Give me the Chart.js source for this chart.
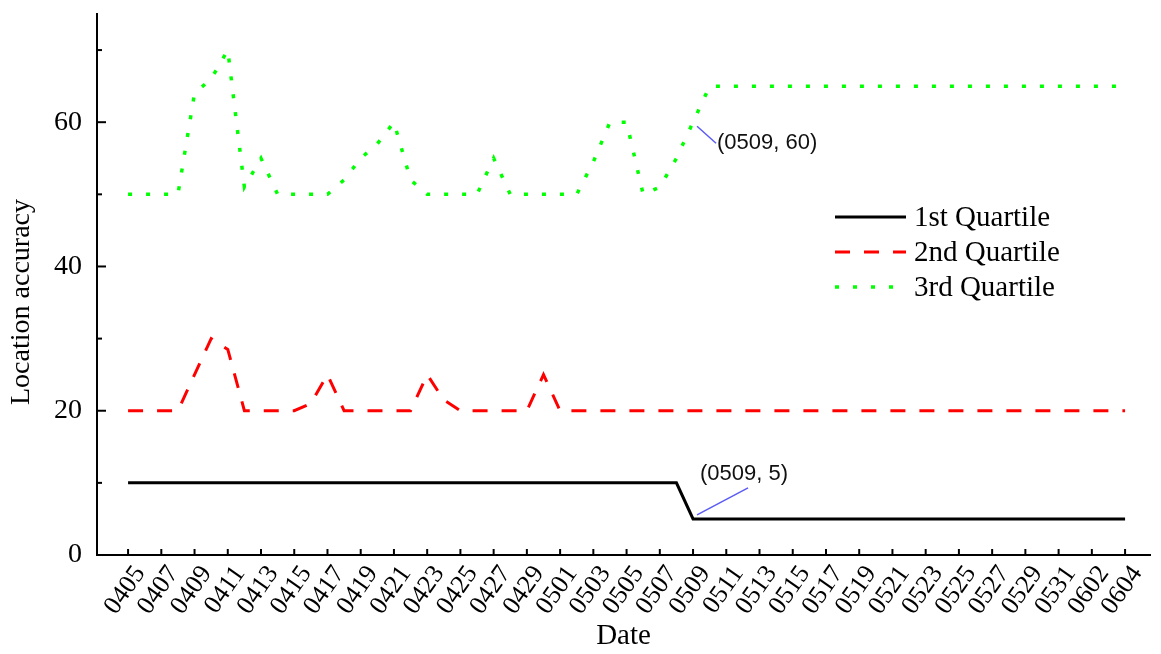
<!DOCTYPE html>
<html>
<head>
<meta charset="utf-8">
<script src="https://cdn.jsdelivr.net/npm/chart.js@4.4.1/dist/chart.umd.min.js"></script>
<style>
  html, body { margin: 0; padding: 0; background: #fff; }
</style>
</head>
<body>
<canvas id="accuracyChart" width="1161" height="654"></canvas>
<script>
// daily dates, every other one is labelled on the axis
const dates = ['0405','0406','0407','0408','0409','0410','0411','0412','0413','0414',
  '0415','0416','0417','0418','0419','0420','0421','0422','0423','0424',
  '0425','0426','0427','0428','0429','0430','0501','0502','0503','0504',
  '0505','0506','0507','0508','0509','0510','0511','0512','0513','0514',
  '0515','0516','0517','0518','0519','0520','0521','0522','0523','0524',
  '0525','0526','0527','0528','0529','0530','0531','0601','0602','0603','0604'];

const firstQuartile = [10,10,10,10,10,10,10,10,10,10,
  10,10,10,10,10,10,10,10,10,10,
  10,10,10,10,10,10,10,10,10,10,
  10,10,10,10,5,5,5,5,5,5,
  5,5,5,5,5,5,5,5,5,5,
  5,5,5,5,5,5,5,5,5,5,5];

const secondQuartile = [20,20,20,20,25,30,28.5,20,20,20,
  20,21,25,20,20,20,20,20,25,21.5,
  20,20,20,20,20,25,20,20,20,20,
  20,20,20,20,20,20,20,20,20,20,
  20,20,20,20,20,20,20,20,20,20,
  20,20,20,20,20,20,20,20,20,20,20];

const thirdQuartile = [50,50,50,50,64,66,70,51,55,50,
  50,50,50,52,55,57,60,52,50,50,
  50,50,55,50,50,50,50,50,54.5,60,
  60,50,51,55,60,65,65,65,65,65,
  65,65,65,65,65,65,65,65,65,65,
  65,65,65,65,65,65,65,65,65,65,65];

const yMajorTicks = [0, 20, 40, 60];
const seriesNames = ['1st Quartile', '2nd Quartile', '3rd Quartile'];
const yTitle = 'Location accuracy';

// points that carry a callout: [series, date index]
const callouts = [
  { series: 2, index: 34, dx: 24, dy: 21, lx1: 4, ly1: 4, lx2: 23, ly2: 21 },
  { series: 0, index: 34, dx: 7, dy: -45, lx1: 4, ly1: -4, lx2: 55, ly2: -31 }
];

const serif = 'Liberation Serif, Times New Roman, serif';

function toPoints(values) {
  return values.map((v, i) => ({ x: i, y: v }));
}

// tick marks point into the plot, like the original figure
const innerTicks = {
  id: 'innerTicks',
  afterDraw(chart) {
    const { ctx, chartArea, scales } = chart;
    ctx.save();
    ctx.strokeStyle = '#000';
    ctx.lineWidth = 2;
    scales.x.ticks.forEach(t => {
      const px = scales.x.getPixelForValue(t.value);
      ctx.beginPath();
      ctx.moveTo(px, chartArea.bottom);
      ctx.lineTo(px, chartArea.bottom - 6);
      ctx.stroke();
    });
    scales.y.ticks.forEach(t => {
      const py = scales.y.getPixelForValue(t.value);
      const len = yMajorTicks.includes(t.value) ? 9 : 5;
      ctx.beginPath();
      ctx.moveTo(chartArea.left, py);
      ctx.lineTo(chartArea.left + len, py);
      ctx.stroke();
    });
    // y title sits a bit below the middle of the axis in the original
    ctx.translate(22, 302);
    ctx.rotate(-Math.PI / 2);
    ctx.font = '28px ' + serif;
    ctx.fillStyle = '#000';
    ctx.textAlign = 'center';
    ctx.textBaseline = 'middle';
    ctx.fillText(yTitle, 0, 0);
    ctx.restore();
  }
};

const boxLegend = {
  id: 'boxLegend',
  afterDraw(chart) {
    const { ctx } = chart;
    ctx.save();
    ctx.font = '29px ' + serif;
    ctx.textBaseline = 'middle';
    ctx.fillStyle = '#000';
    chart.data.datasets.forEach((ds, i) => {
      const y = 217 + i * 35;
      ctx.strokeStyle = ds.borderColor;
      ctx.lineWidth = ds.borderWidth;
      ctx.setLineDash(ds.borderDash || []);
      ctx.beginPath();
      ctx.moveTo(835, y);
      ctx.lineTo(906, y);
      ctx.stroke();
      ctx.fillText(ds.label, 914, y + 1);
    });
    ctx.restore();
  }
};

const calloutPlugin = {
  id: 'callouts',
  afterDraw(chart) {
    const { ctx, scales } = chart;
    ctx.save();
    ctx.font = '22px Liberation Sans, Arial, sans-serif';
    ctx.textBaseline = 'middle';
    ctx.fillStyle = '#111';
    ctx.strokeStyle = '#5b5bf5';
    ctx.lineWidth = 1.5;
    callouts.forEach(c => {
      const value = chart.data.datasets[c.series].data[c.index].y;
      const px = scales.x.getPixelForValue(c.index);
      const py = scales.y.getPixelForValue(value);
      ctx.beginPath();
      ctx.moveTo(px + c.lx1, py + c.ly1);
      ctx.lineTo(px + c.lx2, py + c.ly2);
      ctx.stroke();
      ctx.fillText('(' + dates[c.index] + ', ' + value + ')', px + c.dx, py + c.dy);
    });
    ctx.restore();
  }
};

new Chart(document.getElementById('accuracyChart'), {
  type: 'line',
  data: {
    datasets: [
      {
        label: seriesNames[0],
        data: toPoints(firstQuartile),
        borderColor: '#000000',
        borderWidth: 3,
        pointRadius: 0
      },
      {
        label: seriesNames[1],
        data: toPoints(secondQuartile),
        borderColor: '#ff0000',
        borderWidth: 3,
        borderDash: [15, 14],
        pointRadius: 0
      },
      {
        label: seriesNames[2],
        data: toPoints(thirdQuartile),
        borderColor: '#00ff00',
        borderWidth: 3.5,
        borderDash: [4, 14],
        pointRadius: 0
      }
    ]
  },
  options: {
    responsive: false,
    animation: false,
    devicePixelRatio: 1,
    layout: { padding: { top: 14, right: 11, left: 0, bottom: 0 } },
    plugins: {
      legend: { display: false },
      tooltip: { enabled: false }
    },
    scales: {
      x: {
        type: 'linear',
        min: -1.87,
        max: 61.5,
        afterBuildTicks(scale) {
          scale.ticks = dates.map((d, i) => ({ value: i })).filter(t => t.value % 2 === 0);
        },
        afterFit(scale) {
          scale.height = 99;
          scale.paddingLeft = 0;
          scale.paddingRight = 0;
        },
        grid: { display: false, drawTicks: false },
        border: { display: true, color: '#000', width: 2 },
        ticks: {
          autoSkip: false,
          maxRotation: 55,
          minRotation: 55,
          padding: 5,
          labelOffset: 12,
          color: '#000',
          font: { family: serif, size: 26 },
          callback: v => dates[v]
        },
        title: {
          display: true,
          text: 'Date',
          color: '#000',
          font: { family: serif, size: 29 },
          padding: { top: 0, bottom: 0 }
        }
      },
      y: {
        min: 0,
        max: 75,
        afterFit(scale) {
          scale.width = 97;
          scale.paddingTop = 0;
          scale.paddingBottom = 0;
        },
        grid: { display: false, drawTicks: false },
        border: { display: true, color: '#000', width: 2 },
        ticks: {
          stepSize: 10,
          includeBounds: false,
          padding: 15,
          color: '#000',
          font: { family: serif, size: 28 },
          callback: v => yMajorTicks.includes(v) ? v : ''
        },
        title: { display: false }
      }
    }
  },
  plugins: [innerTicks, boxLegend, calloutPlugin]
});
</script>
</body>
</html>
